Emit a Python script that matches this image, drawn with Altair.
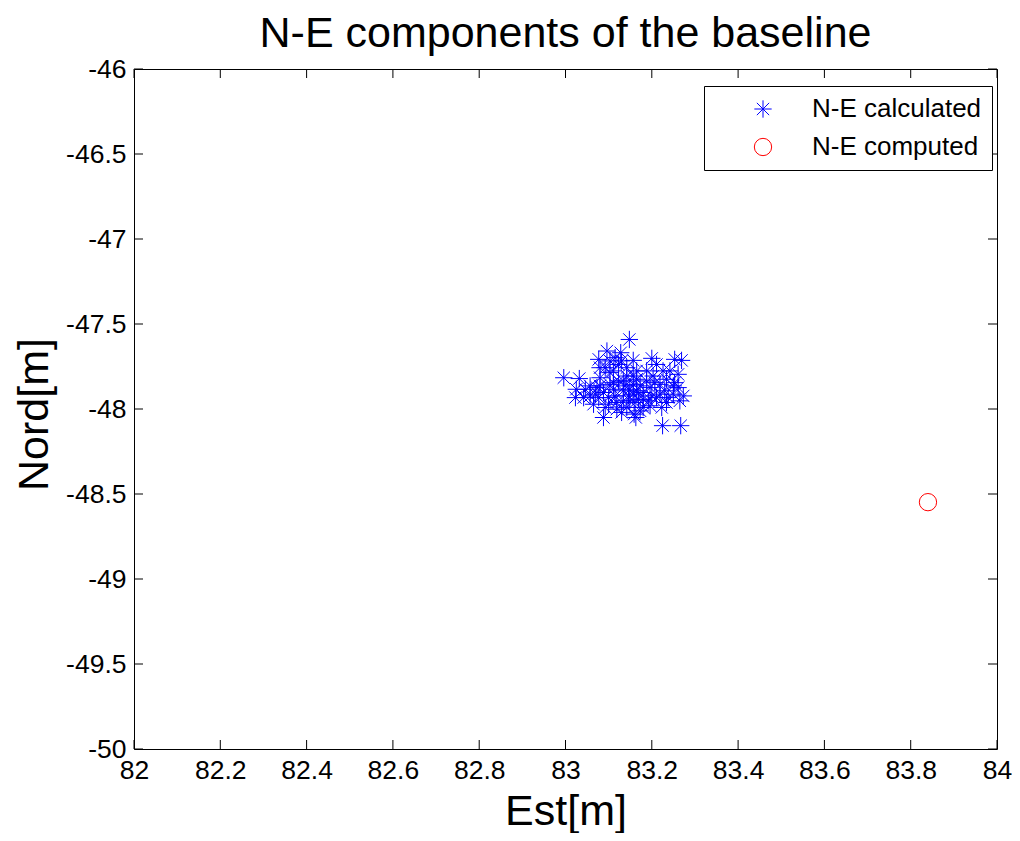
import altair as alt
import pandas as pd

# N-E calculated points (Est, Nord)
calc_est = [83.148, 82.996, 83.032, 83.096, 83.077, 83.128, 83.115, 83.123, 83.157, 83.142,
            83.092, 83.103, 83.200, 83.211, 83.188, 83.253, 83.269, 83.242, 83.261, 83.234,
            83.165, 83.134, 83.080, 83.057, 83.025, 83.023, 83.057, 83.065, 83.088, 83.159,
            83.163, 83.225, 83.267, 83.273, 83.261, 83.234, 83.196, 83.180, 83.149, 83.119,
            83.100, 83.134, 83.111, 83.088, 83.165, 83.196, 83.219, 83.230, 83.211, 83.188,
            83.157, 83.123, 83.103, 83.080, 83.077, 83.142, 83.180, 83.119, 83.250, 83.253,
            83.046, 83.130, 83.111, 83.165, 83.157, 83.080, 83.173, 83.146, 83.200, 83.169,
            83.100, 83.223, 83.130, 83.103, 83.073, 83.142, 83.203, 83.226, 83.250, 83.265,
            83.219, 83.180, 83.115, 83.134, 83.161, 83.192, 83.042, 83.092, 83.157, 83.111,
            83.138, 83.207, 83.238, 83.069, 83.173, 83.149]
calc_nord = [-47.591, -47.816, -47.821, -47.659, -47.708, -47.669, -47.698, -47.738, -47.714, -47.757,
             -47.757, -47.786, -47.702, -47.738, -47.776, -47.708, -47.714, -47.776, -47.796, -47.825,
             -47.825, -47.835, -47.816, -47.864, -47.884, -47.933, -47.923, -47.972, -48.050, -48.030,
             -48.050, -48.098, -48.098, -47.923, -47.874, -47.962, -47.981, -47.943, -47.952, -47.962,
             -47.972, -47.893, -47.884, -47.903, -47.893, -47.874, -47.855, -47.893, -47.933, -47.835,
             -47.855, -47.835, -47.855, -47.864, -47.933, -47.991, -47.991, -48.001, -47.913, -47.845,
             -47.884, -47.717, -47.776, -47.776, -47.806, -47.757, -47.864, -47.923, -47.923, -47.943,
             -47.933, -47.991, -48.020, -47.717, -47.874, -47.806, -47.806, -47.776, -47.864, -47.952,
             -47.913, -47.903, -47.923, -47.952, -47.962, -47.952, -47.933, -47.991, -47.913, -47.845,
             -47.864, -47.845, -47.933, -47.913, -48.011, -47.884]

# N-E computed point
comp_est = [83.840]
comp_nord = [-48.548]

series_names = ["N-E calculated", "N-E computed"]
x_ticks = [82, 82.2, 82.4, 82.6, 82.8, 83, 83.2, 83.4, 83.6, 83.8, 84]
y_ticks = [-50, -49.5, -49, -48.5, -48, -47.5, -47, -46.5, -46]

W, H = 863, 680
FONT = "Liberation Sans"
ASTERISK = "M-1,0L1,0M0,-1L0,1M-0.71,-0.71L0.71,0.71M-0.71,0.71L0.71,-0.71"

df = pd.DataFrame({
    "Est": calc_est + comp_est,
    "Nord": calc_nord + comp_nord,
    "series": [series_names[0]] * len(calc_est) + [series_names[1]] * len(comp_est),
})
xt = pd.DataFrame({"v": x_ticks})
yt = pd.DataFrame({"v": y_ticks})

xscale = alt.Scale(domain=[82, 84], nice=False, zero=False)
yscale = alt.Scale(domain=[-50, -46], nice=False, zero=False)

label_expr = "'' + datum.value"

points = alt.Chart(df).mark_point(filled=False, strokeWidth=1, size=300, opacity=1).encode(
    x=alt.X("Est:Q", scale=xscale,
            axis=alt.Axis(title="Est[m]", values=x_ticks, labelExpr=label_expr, ticks=False,
                          grid=False, domain=False, labelFontSize=26.5, labelFont=FONT,
                          labelColor="black", labelPadding=8, labelFlush=False,
                          labelOverlap=False, titleFontSize=43, titleFont=FONT,
                          titleFontWeight="normal", titleColor="black",
                          titleBaseline="alphabetic", titleY=75)),
    y=alt.Y("Nord:Q", scale=yscale,
            axis=alt.Axis(title="Nord[m]", values=y_ticks, labelExpr=label_expr, ticks=False,
                          grid=False, domain=False, labelFontSize=26.5, labelFont=FONT,
                          labelColor="black", labelPadding=8, labelFlush=False,
                          labelOverlap=False, titleFontSize=43, titleFont=FONT,
                          titleFontWeight="normal", titleColor="black",
                          titleBaseline="alphabetic", titleAngle=-90, titleX=-87, titleY=345,
                          titleAlign="center")),
    color=alt.Color("series:N", scale=alt.Scale(domain=series_names, range=["#0000ff", "#ff0000"]),
                    legend=alt.Legend(title=None, orient="none", legendX=570, legendY=17,
                                      strokeColor="black", fillColor="white", padding=10,
                                      symbolOffset=36, labelOffset=36, labelFontSize=26,
                                      labelFont=FONT, labelColor="black", labelLimit=400,
                                      rowPadding=12, symbolSize=300, symbolStrokeWidth=1,
                                      cornerRadius=0)),
    shape=alt.Shape("series:N", scale=alt.Scale(domain=series_names, range=[ASTERISK, "circle"]),
                    legend=None),
)

tick_style = dict(color="black", size=9, thickness=1, opacity=1)
bottom_ticks = alt.Chart(xt).mark_tick(orient="vertical", **tick_style).encode(
    x=alt.X("v:Q", scale=xscale), y=alt.value(H - 4.5))
top_ticks = alt.Chart(xt).mark_tick(orient="vertical", **tick_style).encode(
    x=alt.X("v:Q", scale=xscale), y=alt.value(4.5))
left_ticks = alt.Chart(yt).mark_tick(orient="horizontal", **tick_style).encode(
    y=alt.Y("v:Q", scale=yscale), x=alt.value(4.5))
right_ticks = alt.Chart(yt).mark_tick(orient="horizontal", **tick_style).encode(
    y=alt.Y("v:Q", scale=yscale), x=alt.value(W - 4.5))

chart = alt.layer(bottom_ticks, top_ticks, left_ticks, right_ticks, points).properties(
    width=W, height=H,
    title=alt.Title("N-E components of the baseline", fontSize=43, font=FONT,
                    fontWeight="normal", color="black", offset=0),
    autosize=alt.AutoSizeParams(type="none"),
    padding={"left": 126, "top": 61, "right": 15, "bottom": 84},
    background="white",
).configure_view(stroke="black", strokeWidth=1)

chart.save("out.html", embed_options={"renderer": "svg", "actions": False})
